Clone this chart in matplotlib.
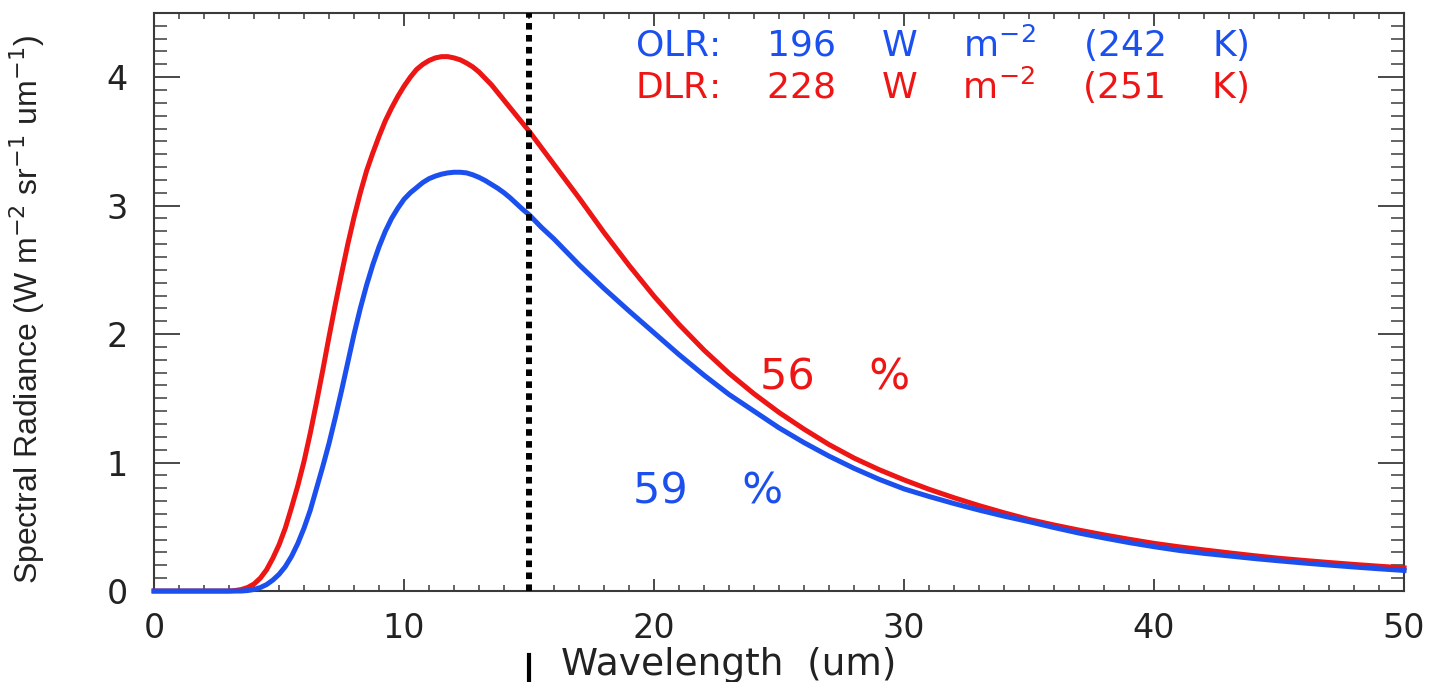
import matplotlib
matplotlib.use('Agg')
import matplotlib.pyplot as plt
from matplotlib.ticker import MultipleLocator

# values (dense around the peak, coarser in the tail)
wave_dlr = [0, 2, 3, 3.25, 3.5, 3.75, 4.0, 4.25, 4.5, 4.75, 5.0, 5.25, 5.5, 5.75,
            6.0, 6.25, 6.5, 6.75, 7.0, 7.25, 7.5, 7.75, 8.0, 8.25, 8.5, 8.75,
            9.0, 9.25, 9.5, 9.75, 10.0, 10.25, 10.5, 10.75, 11.0, 11.25, 11.5,
            11.75, 12.0, 12.25, 12.5, 12.75, 13.0, 13.25, 13.5, 13.75, 14.0,
            14.25, 14.5, 14.75, 15.0, 15.5, 16, 17, 18, 19, 20, 21, 22, 23, 24,
            25, 26, 27, 28, 29, 30, 31, 32, 33, 34, 35, 36, 37, 38, 39, 40, 41,
            42, 43, 44, 45, 46, 47, 48, 49, 50]
rad_dlr = [0, 0, 0, 0.004, 0.012, 0.028, 0.055, 0.10, 0.165, 0.255, 0.36, 0.49,
           0.65, 0.82, 1.01, 1.23, 1.47, 1.72, 1.98, 2.23, 2.47, 2.70, 2.91,
           3.10, 3.27, 3.41, 3.54, 3.66, 3.76, 3.85, 3.93, 4.00, 4.06, 4.10,
           4.13, 4.15, 4.16, 4.16, 4.15, 4.135, 4.11, 4.08, 4.04, 3.99, 3.94,
           3.88, 3.82, 3.76, 3.70, 3.64, 3.58, 3.45, 3.32, 3.06, 2.79, 2.535,
           2.295, 2.075, 1.875, 1.695, 1.535, 1.39, 1.26, 1.14, 1.035, 0.945,
           0.865, 0.792, 0.726, 0.665, 0.609, 0.557, 0.514, 0.474, 0.437, 0.403,
           0.371, 0.344, 0.320, 0.297, 0.275, 0.255, 0.238, 0.222, 0.207, 0.193,
           0.18]

wave_olr = [0, 2, 3, 3.5, 3.75, 4.0, 4.25, 4.5, 4.75, 5.0, 5.25, 5.5, 5.75, 6.0,
            6.25, 6.5, 6.75, 7.0, 7.25, 7.5, 7.75, 8.0, 8.25, 8.5, 8.75, 9.0,
            9.25, 9.5, 9.75, 10.0, 10.25, 10.5, 10.75, 11.0, 11.25, 11.5, 11.75,
            12.0, 12.25, 12.5, 12.75, 13.0, 13.25, 13.5, 13.75, 14.0, 14.25,
            14.5, 14.75, 15.0, 15.5, 16, 17, 18, 19, 20, 21, 22, 23, 24, 25, 26,
            27, 28, 29, 30, 31, 32, 33, 34, 35, 36, 37, 38, 39, 40, 41, 42, 43,
            44, 45, 46, 47, 48, 49, 50]
rad_olr = [0, 0, 0, 0, 0.004, 0.012, 0.027, 0.05, 0.085, 0.13, 0.19, 0.27, 0.37,
           0.49, 0.63, 0.80, 0.97, 1.15, 1.35, 1.56, 1.78, 2.00, 2.20, 2.38,
           2.54, 2.68, 2.80, 2.90, 2.98, 3.05, 3.10, 3.14, 3.18, 3.21, 3.23,
           3.245, 3.255, 3.26, 3.26, 3.255, 3.24, 3.22, 3.195, 3.165, 3.135,
           3.10, 3.06, 3.015, 2.97, 2.93, 2.83, 2.74, 2.54, 2.355, 2.18, 2.01,
           1.84, 1.68, 1.53, 1.40, 1.27, 1.155, 1.05, 0.955, 0.87, 0.795, 0.736,
           0.681, 0.630, 0.583, 0.54, 0.494, 0.451, 0.413, 0.377, 0.345, 0.316,
           0.293, 0.273, 0.253, 0.235, 0.218, 0.202, 0.187, 0.173, 0.16]

split_wave = 15
olr_text = 'OLR:    196    W    m$^{-2}$    (242    K)'
dlr_text = 'DLR:    228    W    m$^{-2}$    (251    K)'
olr_pct = '59    %'
dlr_pct = '56    %'

red = '#ee1515'
blue = '#1b50ee'
axcol = '#3a3a3a'
txtcol = '#222222'

fig = plt.figure(figsize=(14.33, 6.82), dpi=100)
ax = fig.add_axes([0.1075, 0.1334, 0.8723, 0.8476])

ax.plot(wave_dlr, rad_dlr, c=red, lw=3.6, clip_on=False, zorder=3)
ax.plot(wave_olr, rad_olr, c=blue, lw=3.6, clip_on=False, zorder=4)

# 15 um split
ax.plot([split_wave, split_wave], [0, 4.5], c='k', lw=4.3, ls=(0, (1.1, 0.9)), zorder=5)
ax.plot([split_wave, split_wave], [-0.50, -0.71], c='k', lw=3, clip_on=False)

ax.set_xlim(0, 50)
ax.set_ylim(0, 4.5)
ax.xaxis.set_major_locator(MultipleLocator(10))
ax.xaxis.set_minor_locator(MultipleLocator(1))
ax.yaxis.set_major_locator(MultipleLocator(1))
ax.yaxis.set_minor_locator(MultipleLocator(0.1))

ax.tick_params(axis='x', which='major', direction='in', length=9, width=1.3,
               top=True, color=axcol, labelsize=24, pad=15, labelcolor=txtcol)
ax.tick_params(axis='x', which='minor', direction='in', length=4.5, width=1.1,
               top=True, color=axcol)
ax.tick_params(axis='y', which='major', direction='in', length=18.7, width=1.3,
               right=True, color=axcol, labelsize=24, pad=19, labelcolor=txtcol)
ax.tick_params(axis='y', which='minor', direction='in', length=9.4, width=1.1,
               right=True, color=axcol)
for sp in ax.spines.values():
    sp.set_color(axcol)
    sp.set_linewidth(1.5)

ax.set_xlabel('Wavelength  (um)', fontsize=27, color=txtcol)
ax.xaxis.set_label_coords(0.46, -0.096)
ax.set_ylabel('Spectral Radiance (W m$^{-2}$ sr$^{-1}$ um$^{-1}$)', fontsize=23,
              color=txtcol, family=['Liberation Sans', 'DejaVu Sans'])
ax.yaxis.set_label_coords(-0.086, 0.487)

ax.text(0.385, 0.948, olr_text, transform=ax.transAxes, color=blue, fontsize=26,
        va='center', ha='left')
ax.text(0.385, 0.874, dlr_text, transform=ax.transAxes, color=red, fontsize=26,
        va='center', ha='left')
ax.text(0.485, 0.37, dlr_pct, transform=ax.transAxes, color=red, fontsize=31,
        va='center', ha='left')
ax.text(0.383, 0.172, olr_pct, transform=ax.transAxes, color=blue, fontsize=31,
        va='center', ha='left')

plt.savefig('out.png', dpi=100)
